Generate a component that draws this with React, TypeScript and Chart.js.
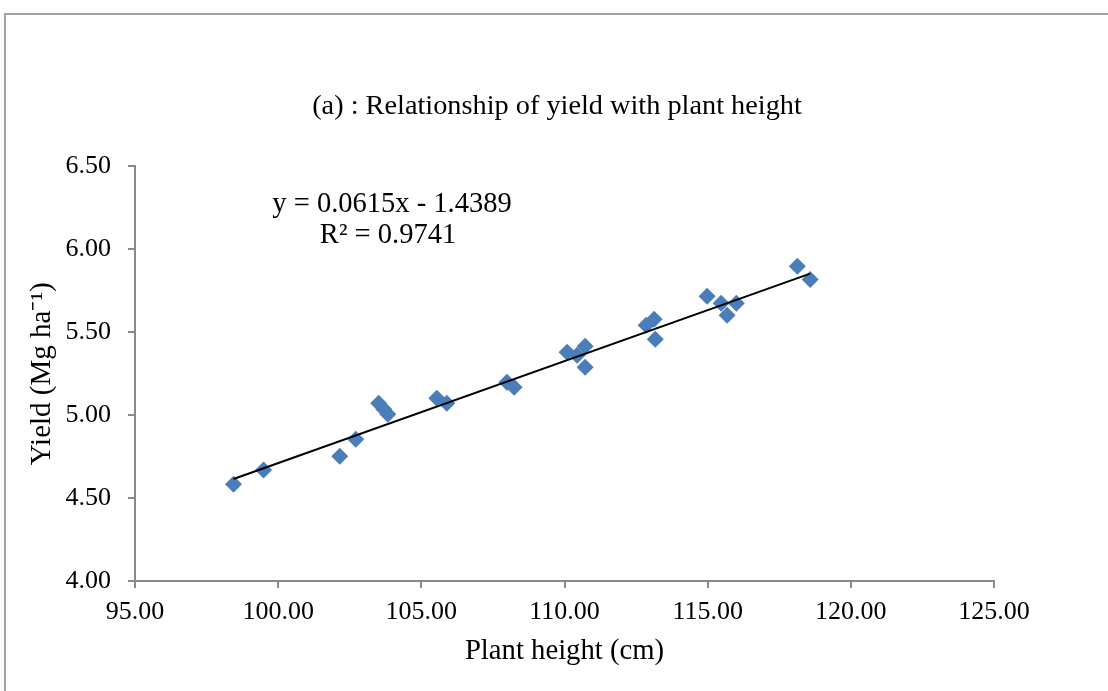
import { useEffect, useRef } from 'react';
import { Chart, registerables } from 'chart.js';

Chart.register(...registerables);

const plantHeight = [98.44, 99.49, 102.15, 102.71, 103.51, 103.69, 103.83, 105.54, 105.89, 107.99, 108.24, 110.09, 110.44, 110.72, 110.72, 112.85, 113.13, 113.17, 114.98, 115.47, 115.68, 116.0, 118.13, 118.58];
const yieldValues = [4.584, 4.669, 4.753, 4.855, 5.072, 5.036, 5.006, 5.102, 5.072, 5.199, 5.169, 5.38, 5.361, 5.416, 5.289, 5.542, 5.578, 5.458, 5.717, 5.675, 5.602, 5.675, 5.898, 5.819];
const trendX = [98.44, 118.58];
const trendY = [4.615, 5.854];
const equationLines = ['y = 0.0615x - 1.4389', 'R² = 0.9741'];
const chartTitle = '(a) : Relationship of yield with plant height';
const xTitle = 'Plant height (cm)';
const yTitle = 'Yield (Mg ha⁻¹)';

const SERIF = "'Liberation Serif', 'Times New Roman', serif";

const equationPlugin = {
  id: 'equation',
  afterDatasetsDraw(chart: any) {
    const ctx = chart.ctx;
    ctx.save();
    ctx.fillStyle = '#000';
    ctx.font = `28.5px ${SERIF}`;
    ctx.textAlign = 'center';
    ctx.textBaseline = 'alphabetic';
    ctx.fillText(equationLines[0], 392, 212);
    ctx.fillText(equationLines[1], 388, 243);
    ctx.restore();
  },
};

export default function App() {
  const ref = useRef<HTMLCanvasElement>(null);
  useEffect(() => {
    if (!ref.current) return;
    const chart = new Chart(ref.current, {
      type: 'scatter',
      data: {
        datasets: [
          {
            label: 'Yield',
            data: plantHeight.map((x, i) => ({ x, y: yieldValues[i] })),
            backgroundColor: '#4A7EBB',
            borderColor: '#4A7EBB',
            borderWidth: 0,
            pointStyle: 'rectRot',
            pointRadius: 8.5,
            order: 2,
          },
          {
            label: 'Trend',
            data: trendX.map((x, i) => ({ x, y: trendY[i] })),
            showLine: true,
            borderColor: '#000',
            borderWidth: 2,
            pointRadius: 0,
            fill: false,
            order: 1,
          } as any,
        ],
      },
      options: {
        animation: false,
        responsive: false,
        maintainAspectRatio: false,
        layout: { padding: { left: 6, right: 0, top: 0, bottom: 0 } },
        plugins: {
          legend: { display: false },
          tooltip: { enabled: false },
          title: {
            display: true,
            text: chartTitle,
            color: '#000',
            font: { family: SERIF, size: 28.3, weight: 'normal', lineHeight: 1.2 },
            padding: { top: 89.5, bottom: 43 },
          },
        },
        scales: {
          x: {
            type: 'linear',
            min: 95,
            max: 125,
            ticks: {
              stepSize: 5,
              color: '#000',
              font: { family: SERIF, size: 26 },
              padding: 9,
              callback: (v: any) => Number(v).toFixed(2),
            },
            grid: { display: true, drawOnChartArea: false, drawTicks: true, tickLength: 7, color: '#8a8a8a', lineWidth: 2 },
            border: { display: true, color: '#8a8a8a', width: 2 },
            title: {
              display: true,
              text: xTitle,
              color: '#000',
              font: { family: SERIF, size: 28.7, lineHeight: 1.2 },
              padding: { top: 0, bottom: 22 },
            },
            afterFit: (s: any) => { s.height = 110; },
          },
          y: {
            type: 'linear',
            min: 4,
            max: 6.5,
            ticks: {
              stepSize: 0.5,
              color: '#000',
              font: { family: SERIF, size: 26 },
              padding: 17,
              callback: (v: any) => Number(v).toFixed(2),
            },
            grid: { display: true, drawOnChartArea: false, drawTicks: true, tickLength: 7, color: '#8a8a8a', lineWidth: 2 },
            border: { display: true, color: '#8a8a8a', width: 2 },
            title: {
              display: true,
              text: yTitle,
              color: '#000',
              font: { family: SERIF, size: 29, lineHeight: 1.2 },
              padding: { top: 19, bottom: 0 },
            },
            afterFit: (s: any) => { s.width = 129; },
          },
          yRight: {
            type: 'linear',
            position: 'right',
            min: 4,
            max: 6.5,
            display: true,
            ticks: { display: false },
            grid: { display: false },
            border: { display: false },
            afterFit: (s: any) => { s.width = 114; },
          },
        },
      } as any,
      plugins: [equationPlugin],
    });
    return () => chart.destroy();
  }, []);

  return (
    <div style={{ position: 'fixed', left: 0, top: 0, width: 1108, height: 691, overflow: 'hidden', background: '#fff' }}>
      <div style={{ position: 'absolute', left: 4, top: 13, width: 1200, height: 800, borderLeft: '2px solid #a3a3a3', borderTop: '2px solid #a3a3a3' }} />
      <canvas ref={ref} width={1108} height={691} style={{ position: 'absolute', left: 0, top: 0, width: 1108, height: 691 }} />
    </div>
  );
}
